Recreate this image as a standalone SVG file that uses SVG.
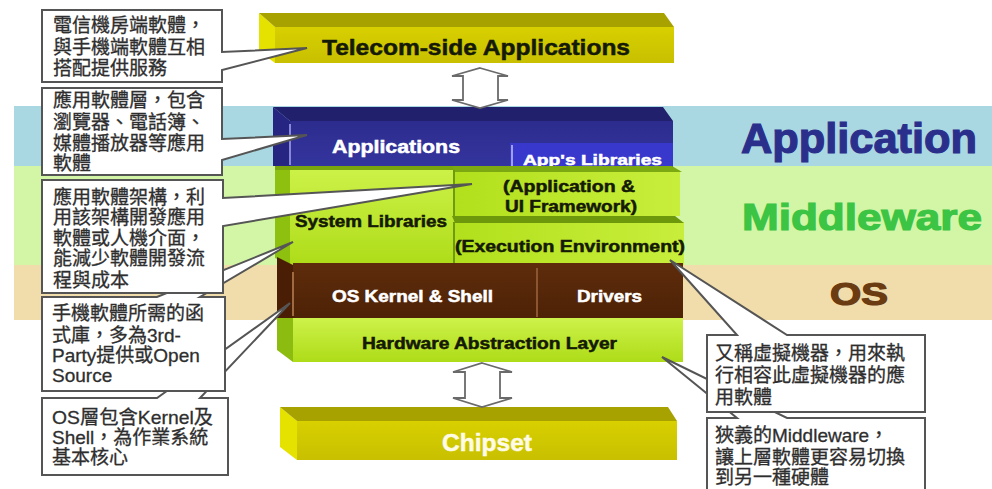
<svg xmlns="http://www.w3.org/2000/svg" width="992" height="489" viewBox="0 0 992 489">
<defs>
<linearGradient id="gGreen" x1="0" y1="0" x2="0" y2="1"><stop offset="0" stop-color="#cdf24a"/><stop offset="1" stop-color="#aedc18"/></linearGradient>
<linearGradient id="gGreenH" x1="0" y1="0" x2="1" y2="0"><stop offset="0" stop-color="#b2e01c"/><stop offset="1" stop-color="#c8ee3c"/></linearGradient>
<linearGradient id="gOlive" x1="0" y1="0" x2="0" y2="1"><stop offset="0" stop-color="#d8d000"/><stop offset="1" stop-color="#c8c000"/></linearGradient>
<linearGradient id="gBrown" x1="0" y1="0" x2="0" y2="1"><stop offset="0" stop-color="#5e2c0c"/><stop offset="1" stop-color="#4e2206"/></linearGradient>
<linearGradient id="gBlue" x1="0" y1="0" x2="0" y2="1"><stop offset="0" stop-color="#2c2c8e"/><stop offset="1" stop-color="#34349e"/></linearGradient>
</defs>
<style>
.lbl{font-family:"Liberation Sans",Arial,sans-serif;font-weight:bold;stroke-width:0.5;}
.dk{fill:#151a05;stroke:#151a05;}
.wt{fill:#ffffff;stroke:#ffffff;}
.cj{font-family:"Liberation Sans","Noto Sans CJK TC",sans-serif;font-size:19px;fill:#2e2e2e;stroke:#2e2e2e;stroke-width:0.3;}
.box{fill:#ffffff;stroke:#555555;stroke-width:2;stroke-linejoin:miter;}
.arr{fill:#ffffff;stroke:#6a6a6a;stroke-width:1.8;}
.big{font-family:"Liberation Sans",Arial,sans-serif;font-weight:bold;stroke-width:1.2;}
</style>

<!-- layer bands -->
<g id="bands">
<rect x="14" y="106" width="978" height="60" fill="#aad8e2"/>
<rect x="14" y="166" width="978" height="99" fill="#d2f6a6"/>
<rect x="14" y="265" width="978" height="55" fill="#f1ddab"/>
</g>

<g id="layer-labels">
<text class="big" x="741" y="153" font-size="42" textLength="236" lengthAdjust="spacingAndGlyphs" fill="#2b2f8c" stroke="#2b2f8c">Application</text>
<text class="big" x="742" y="230" font-size="36" textLength="240" lengthAdjust="spacingAndGlyphs" fill="#3cc444" stroke="#3cc444">Middleware</text>
<text class="big" x="830" y="305" font-size="31" textLength="58" lengthAdjust="spacingAndGlyphs" fill="#6b3b12" stroke="#6b3b12">OS</text>
</g>

<!-- Telecom-side Applications -->
<g id="telecom">
<polygon points="259,13 275,27 275,63 259,51" fill="#e6e200"/>
<polygon points="259,13 664,13 674,27 275,27" fill="#a8a200"/>
<rect x="275" y="27" width="399" height="36" fill="url(#gOlive)"/>
<text class="lbl dk" x="322" y="55" font-size="22" textLength="308" lengthAdjust="spacingAndGlyphs">Telecom-side Applications</text>
</g>

<!-- Applications -->
<g id="applications">
<polygon points="273,107 290,121 290,166 273,166" fill="#262682"/>
<polygon points="273,107 663,107 673,121 290,121" fill="#20206c"/>
<rect x="290" y="121" width="383" height="45" fill="url(#gBlue)"/>
<line x1="290" y1="124" x2="290" y2="165" stroke="#8888d8" stroke-width="2"/>
<text class="lbl wt" x="332" y="153" font-size="18" textLength="128" lengthAdjust="spacingAndGlyphs">Applications</text>
</g>
<g id="app-libraries">
<rect x="510" y="143" width="163" height="24" fill="#3838cc"/>
<line x1="512" y1="145" x2="512" y2="166" stroke="#a0a0f0" stroke-width="2"/>
<text class="lbl wt" x="523" y="165" font-size="15" textLength="139" lengthAdjust="spacingAndGlyphs">App's Libraries</text>
</g>

<!-- System Libraries -->
<g id="system-libraries">
<polygon points="275,166 290,166 290,265 275,258" fill="#8ec010"/>
<rect x="290" y="166" width="165" height="99" fill="url(#gGreen)"/>
<rect x="275" y="166" width="180" height="4" fill="#7aa40e"/>
<text class="lbl dk" x="295" y="227" font-size="16" textLength="152" lengthAdjust="spacingAndGlyphs">System Libraries</text>
</g>

<!-- Application & UI Framework -->
<g id="app-ui-framework">
<rect x="455" y="170" width="225" height="46" fill="url(#gGreenH)"/>
<polygon points="452,166 672,166 682,172 455,172" fill="#7ca812"/>
<line x1="454" y1="170" x2="454" y2="216" stroke="#6e9a0c" stroke-width="2"/>
<text class="lbl dk" x="503" y="192" font-size="16" textLength="132" lengthAdjust="spacingAndGlyphs">(Application &amp;</text>
<text class="lbl dk" x="505" y="212" font-size="16" textLength="132" lengthAdjust="spacingAndGlyphs">UI Framework)</text>
</g>

<!-- Execution Environment -->
<g id="execution-env">
<rect x="455" y="222" width="229" height="43" fill="url(#gGreenH)"/>
<polygon points="452,216 675,216 684,223 455,223" fill="#6e980c"/>
<line x1="454" y1="222" x2="454" y2="265" stroke="#6e9a0c" stroke-width="2"/>
<text class="lbl dk" x="455" y="252" font-size="16" textLength="230" lengthAdjust="spacingAndGlyphs">(Execution Environment)</text>
</g>

<!-- OS Kernel & Shell / Drivers -->
<g id="os-kernel">
<polygon points="277,257 293,265 293,318 277,318" fill="#4a1e04"/>
<rect x="293" y="263" width="245" height="55" fill="url(#gBrown)"/>
<line x1="293" y1="272" x2="293" y2="316" stroke="#a06a40" stroke-width="2"/>
<text class="lbl wt" x="332" y="302" font-size="16" textLength="161" lengthAdjust="spacingAndGlyphs">OS Kernel &amp; Shell</text>
</g>
<g id="drivers">
<rect x="538" y="263" width="145" height="55" fill="url(#gBrown)"/>
<line x1="537" y1="268" x2="537" y2="317" stroke="#8a5530" stroke-width="2"/>
<text class="lbl wt" x="577" y="302" font-size="16" textLength="65" lengthAdjust="spacingAndGlyphs">Drivers</text>
</g>

<!-- Hardware Abstraction Layer -->
<g id="hal">
<polygon points="277,318 293,318 293,362 277,350" fill="#8cbc10"/>
<rect x="293" y="318" width="390" height="44" fill="url(#gGreen)"/>
<text class="lbl dk" x="362" y="349" font-size="16" textLength="255" lengthAdjust="spacingAndGlyphs">Hardware Abstraction Layer</text>
</g>

<!-- Chipset -->
<g id="chipset">
<polygon points="280,407 297,421 297,460 280,447" fill="#e6e200"/>
<polygon points="280,407 668,407 677,421 297,421" fill="#a8a200"/>
<rect x="297" y="421" width="380" height="39" fill="url(#gOlive)"/>
<text class="lbl" x="442" y="451" font-size="24" textLength="90" lengthAdjust="spacingAndGlyphs" fill="#fffbe6" stroke="#fffbe6">Chipset</text>
</g>

<!-- connectors -->
<g id="connectors">
<polygon class="arr" points="480,68 508,76 498,76 498,100 508,100 480,108 452,100 463,100 463,76 452,76"/>
<polygon class="arr" points="482,363 512,372 500,372 500,398 512,398 482,407 453,398 465,398 465,372 453,372"/>
</g>

<!-- callouts (left) -->
<g id="callout-os">
<path class="box" d="M42,398 H157 L290,303 L200,398 H228 V475 H42 Z"/>
<text class="cj" x="52" y="424" textLength="161" lengthAdjust="spacingAndGlyphs">OS層包含Kernel及</text>
<text class="cj" x="52" y="444">Shell，為作業系統</text>
<text class="cj" x="52" y="464">基本核心</text>
</g>
<g id="callout-libraries">
<path class="box" d="M42,297 H157 L293,242 L200,297 H225 V391 H42 Z"/>
<text class="cj" x="52" y="320">手機軟體所需的函</text>
<text class="cj" x="52" y="342">式庫，多為3rd-</text>
<text class="cj" x="52" y="362">Party提供或Open</text>
<text class="cj" x="52" y="382">Source</text>
</g>
<g id="callout-framework">
<path class="box" d="M42,180 H223 V198 L472,184 L223,226 V293 H42 Z"/>
<text class="cj" x="53" y="204">應用軟體架構，利</text>
<text class="cj" x="53" y="224">用該架構開發應用</text>
<text class="cj" x="53" y="245">軟體或人機介面，</text>
<text class="cj" x="53" y="265">能減少軟體開發流</text>
<text class="cj" x="53" y="287">程與成本</text>
</g>
<g id="callout-applications">
<path class="box" d="M42,88 H222 V139 L307,135 L222,160 V175 H42 Z"/>
<text class="cj" x="53" y="107">應用軟體層，包含</text>
<text class="cj" x="53" y="129">瀏覽器、電話簿、</text>
<text class="cj" x="53" y="150">媒體播放器等應用</text>
<text class="cj" x="53" y="170">軟體</text>
</g>
<g id="callout-telecom">
<path class="box" d="M42,10 H222 V52 L307,48 L222,70 V82 H42 Z"/>
<text class="cj" x="53" y="32">電信機房端軟體，</text>
<text class="cj" x="53" y="54">與手機端軟體互相</text>
<text class="cj" x="53" y="75">搭配提供服務</text>
</g>

<!-- callouts (right) -->
<g id="callout-middleware">
<path class="box" d="M707,418 H737 L662,357 L787,418 H925 V492 H707 Z"/>
<text class="cj" x="715" y="442">狹義的Middleware，</text>
<text class="cj" x="715" y="464">讓上層軟體更容易切換</text>
<text class="cj" x="715" y="484">到另一種硬體</text>
</g>
<g id="callout-vm">
<path class="box" d="M707,335 H737 L670,260 L787,335 H925 V412 H707 Z"/>
<text class="cj" x="715" y="360">又稱虛擬機器，用來執</text>
<text class="cj" x="715" y="382">行相容此虛擬機器的應</text>
<text class="cj" x="715" y="404">用軟體</text>
</g>
</svg>
